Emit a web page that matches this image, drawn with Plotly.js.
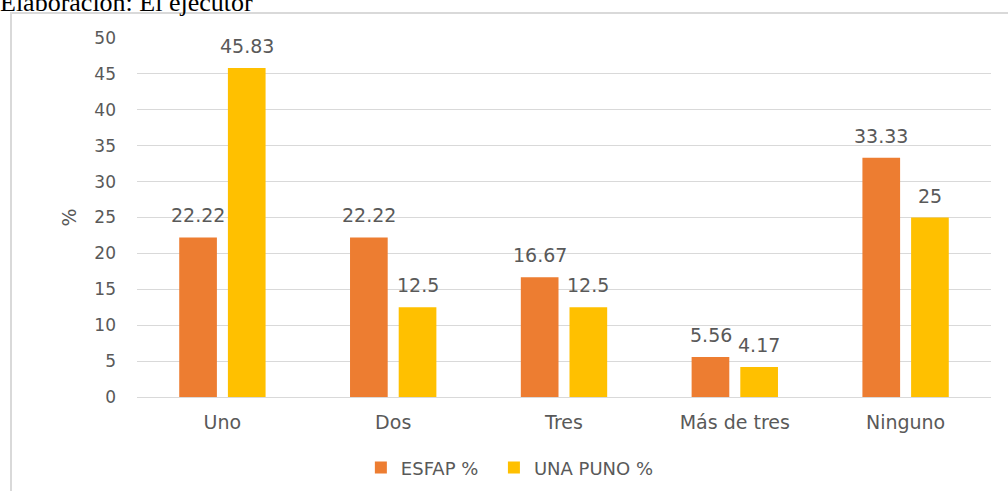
<!DOCTYPE html>
<html>
<head>
<meta charset="utf-8">
<script src="https://cdn.plot.ly/plotly-3.0.1.min.js"></script>
<style>
  html, body { margin: 0; padding: 0; background: #ffffff; overflow: hidden; }
  #chart { position: absolute; left: 0; top: 0; width: 1008px; height: 491px; }
  #frame { position: absolute; left: 10px; top: 12px; width: 1100px; height: 600px;
           border: 2px solid #d9d9d9; box-sizing: border-box; pointer-events: none; z-index: 5; }
  #caption { position: absolute; left: 0px; top: -10px; font-family: "Liberation Serif", "DejaVu Serif", serif;
             font-size: 26px; line-height: 26px; color: #000; white-space: nowrap; z-index: 6; }
</style>
</head>
<body>
<div id="chart"></div>
<div id="frame"></div>
<div id="caption">Elaboración: El ejecutor</div>
<script>
const categories = ["Uno", "Dos", "Tres", "Más de tres", "Ninguno"];
const esfapValues = [22.22, 22.22, 16.67, 5.56, 33.33];
const unaPunoValues = [45.83, 12.5, 12.5, 4.17, 25];
const seriesNames = ["ESFAP %", "UNA PUNO %"];
const yTicks = [0, 5, 10, 15, 20, 25, 30, 35, 40, 45, 50];

const FONT = "DejaVu Sans, Open Sans, sans-serif";
const GREY = "#595959";

const traces = [
  { type: "bar", name: seriesNames[0], x: categories, y: esfapValues,
    marker: { color: "#ED7D31" }, hoverinfo: "none", legend: "legend" },
  { type: "bar", name: seriesNames[1], x: categories, y: unaPunoValues,
    marker: { color: "#FFC000" }, hoverinfo: "none", legend: "legend2" }
];

const annotations = [];
[esfapValues, unaPunoValues].forEach((vals, si) => {
  vals.forEach((v, i) => {
    annotations.push({
      x: categories[i], y: v, xref: "x", yref: "y",
      xshift: si === 0 ? -24.3 : 24.3, yshift: 22,
      yanchor: "middle", xanchor: "center",
      text: String(v), showarrow: false,
      font: { family: FONT, size: 19, color: GREY }
    });
  });
});

const legendBase = {
  orientation: "h", xref: "container", yref: "container",
  xanchor: "left", y: 0.047, yanchor: "middle",
  font: { family: FONT, size: 18, color: GREY }, itemwidth: 30
};

const layout = {
  width: 1008, height: 491,
  margin: { l: 137, r: 17, t: 38, b: 94, pad: 0, autoexpand: false },
  paper_bgcolor: "rgba(0,0,0,0)", plot_bgcolor: "#ffffff",
  barmode: "group", bargap: 0.43, bargroupgap: 0.226,
  showlegend: true,
  legend: Object.assign({}, legendBase, { x: 0.358 }),
  legend2: Object.assign({}, legendBase, { x: 0.490 }),
  xaxis: { type: "category", tickfont: { family: FONT, size: 19, color: GREY },
           showgrid: false, zeroline: false, showline: false, ticks: "", ticklen: 0,
           ticklabelstandoff: 12, automargin: false },
  yaxis: { range: [0, 50], tickvals: yTicks, ticktext: yTicks.map(String),
           tickfont: { family: FONT, size: 17, color: GREY },
           showgrid: true, gridcolor: "#d9d9d9", gridwidth: 1,
           zeroline: true, zerolinecolor: "#d9d9d9", zerolinewidth: 1,
           showline: false, ticks: "", ticklabelstandoff: 20, automargin: false,
           title: { text: "%", font: { family: FONT, size: 19, color: GREY }, standoff: 12 } },
  annotations: annotations
};

Plotly.newPlot("chart", traces, layout, { staticPlot: true, displayModeBar: false });
</script>
</body>
</html>
